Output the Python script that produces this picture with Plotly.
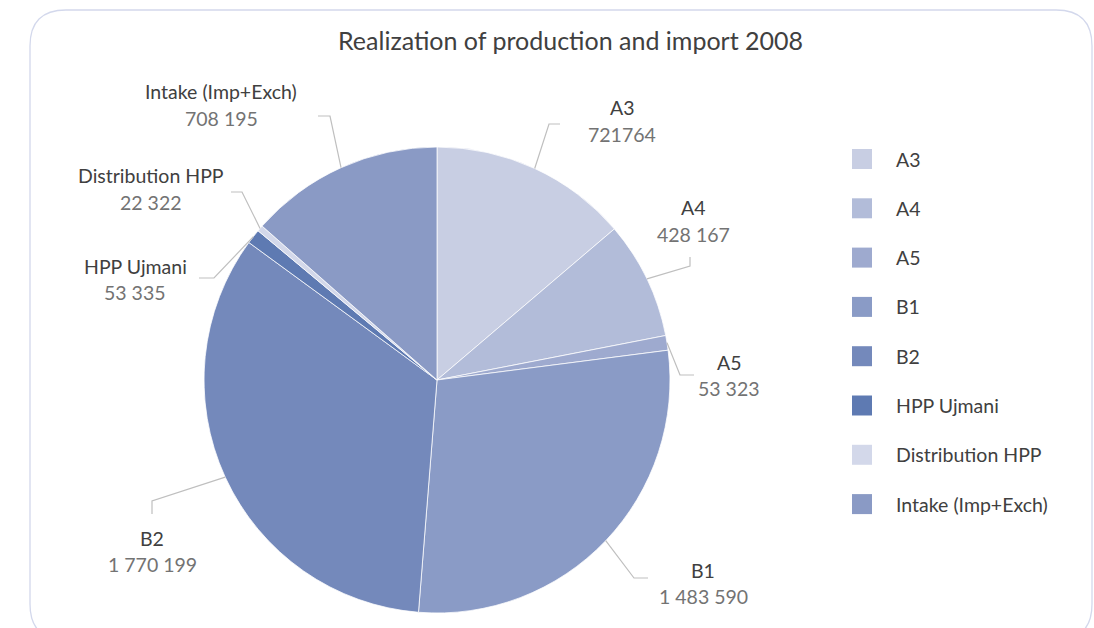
import math
import plotly.graph_objects as go

# ---------------- data ----------------
categories = ["A3", "A4", "A5", "B1", "B2", "HPP Ujmani", "Distribution HPP", "Intake (Imp+Exch)"]
values = [721764, 428167, 53323, 1483590, 1770199, 53335, 22322, 708195]
value_labels = ["721764", "428 167", "53 323", "1 483 590", "1 770 199", "53 335", "22 322", "708 195"]
colors = ["#c8cee3", "#b2bcd9", "#9eaacf", "#8a9bc6", "#7489bb", "#5e7ab2", "#d3d8ea", "#8a9ac5"]
title_text = "Realization of production and import 2008"

# ---------------- layout constants (pixels) ----------------
W, H = 1094, 628
CX, CY, R = 437, 380, 233
FONT = "Lato"

def px(x):
    return x / W

def py(y):
    return 1 - y / H

# label centre (name line) and leader elbow / end per slice
label_pos = [(622, 108), (693, 208), (729, 362), (703, 570), (152, 538), (135, 266), (151, 176), (221, 92)]
value_dy = 26
leader = [
    [(549, 124), (560, 124)],
    [(690, 266), (690, 257)],
    [(680, 375), (694, 375)],
    [(634, 578), (648, 578)],
    [(152, 501), (152, 514)],
    [(214, 278), (199, 278)],
    [(242, 192), (231, 192)],
    [(330, 116), (318, 116)],
]

fig = go.Figure()
fig.add_trace(go.Pie(
    labels=categories,
    values=values,
    sort=False,
    direction="clockwise",
    rotation=0,
    textinfo="none",
    hoverinfo="label+value",
    marker=dict(colors=colors, line=dict(color="rgba(255,255,255,0.75)", width=1)),
    domain=dict(x=[px(CX - R), px(CX + R)], y=[py(CY + R), py(CY - R)]),
    showlegend=False,
))

shapes = []
annotations = []

# rounded border
x0, x1, y0, y1, rr = 30, 1092, 10, 640, 36
path = (f"M {px(x0 + rr)},{py(y0)} L {px(x1 - rr)},{py(y0)} "
        f"Q {px(x1)},{py(y0)} {px(x1)},{py(y0 + rr)} "
        f"L {px(x1)},{py(y1 - rr)} Q {px(x1)},{py(y1)} {px(x1 - rr)},{py(y1)} "
        f"L {px(x0 + rr)},{py(y1)} Q {px(x0)},{py(y1)} {px(x0)},{py(y1 - rr)} "
        f"L {px(x0)},{py(y0 + rr)} Q {px(x0)},{py(y0)} {px(x0 + rr)},{py(y0)} Z")
shapes.append(dict(type="path", xref="paper", yref="paper", path=path,
                   line=dict(color="#d3d8ec", width=1.3), fillcolor="rgba(0,0,0,0)", layer="below"))

# data labels with leader lines
total = sum(values)
cum = 0
for i, (cat, v) in enumerate(zip(categories, values)):
    mid = (cum + v / 2) / total
    cum += v
    ang = mid * 2 * math.pi
    sx = CX + R * math.sin(ang)
    sy = CY - R * math.cos(ang)
    pts = [(sx, sy)] + leader[i]
    d = "M " + " L ".join(f"{px(a)},{py(b)}" for a, b in pts)
    shapes.append(dict(type="path", xref="paper", yref="paper", path=d,
                       line=dict(color="#bfbfbf", width=1.2)))
    lx, ly = label_pos[i]
    annotations.append(dict(x=px(lx), y=py(ly), xref="paper", yref="paper", text=cat,
                            showarrow=False, xanchor="center", yanchor="middle",
                            font=dict(family=FONT, size=19.5, color="#404040")))
    annotations.append(dict(x=px(lx), y=py(ly + value_dy), xref="paper", yref="paper",
                            text=value_labels[i], showarrow=False, xanchor="center", yanchor="middle",
                            font=dict(family=FONT, size=19.5, color="#737373")))

# custom legend
leg_y0, leg_dy = 159, 49.3
for i, cat in enumerate(categories):
    yc = leg_y0 + i * leg_dy
    shapes.append(dict(type="rect", xref="paper", yref="paper",
                       x0=px(852), x1=px(872), y0=py(yc + 10), y1=py(yc - 10),
                       fillcolor=colors[i], line=dict(width=0)))
    annotations.append(dict(x=px(894), y=py(yc), xref="paper", yref="paper", text=cat,
                            showarrow=False, xanchor="left", yanchor="middle",
                            font=dict(family=FONT, size=19.5, color="#404040")))

# title
annotations.append(dict(x=px(570), y=py(40), xref="paper", yref="paper", text=title_text,
                        showarrow=False, xanchor="center", yanchor="middle",
                        font=dict(family=FONT, size=25, color="#404040")))

fig.update_layout(
    width=W, height=H,
    margin=dict(l=0, r=0, t=0, b=0),
    paper_bgcolor="white", plot_bgcolor="white",
    shapes=shapes, annotations=annotations,
)

fig.write_html("out.html", config={"displayModeBar": False},
               post_script="document.body.style.margin='0';document.body.style.overflow='hidden';")
